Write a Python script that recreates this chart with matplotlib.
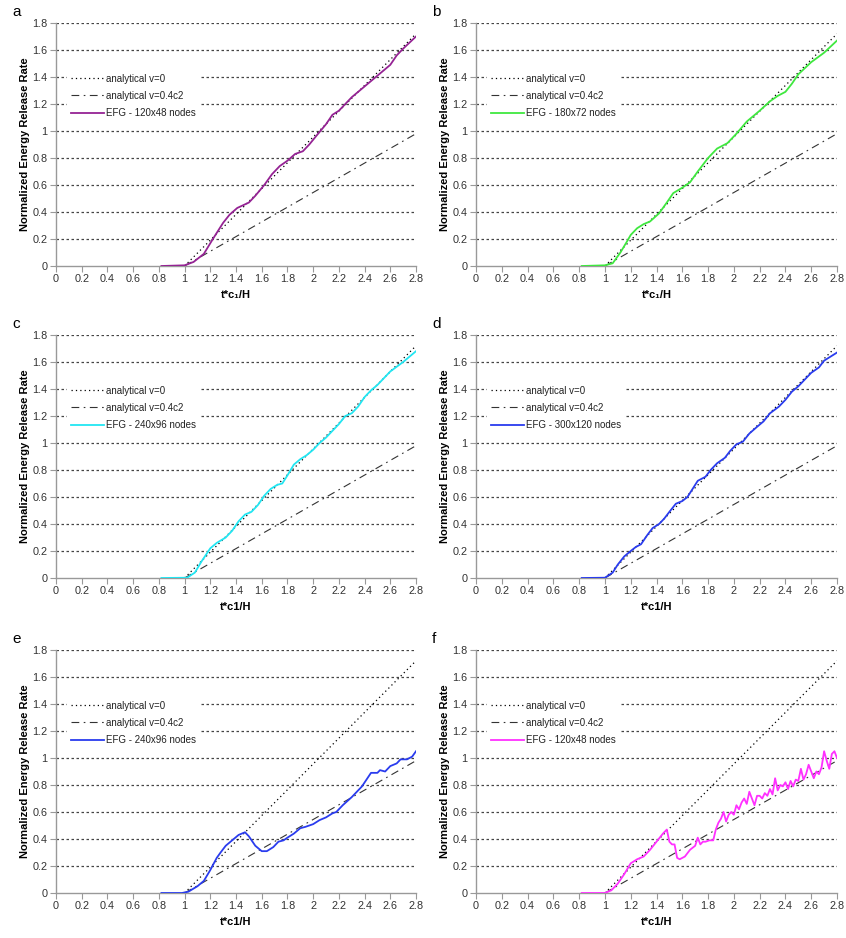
import matplotlib
matplotlib.use("Agg")
import matplotlib.pyplot as plt

plt.rcParams['font.family'] = ['Liberation Sans', 'DejaVu Sans']

# analytical lines
anal_x = [1.0, 2.8]
anal_v0 = [0.0, 1.72]
anal_v04 = [0.0, 0.98]

# panel data
a_x = [0.82, 1.0, 1.07, 1.15, 1.22, 1.3, 1.35, 1.41, 1.5, 1.55, 1.62, 1.68, 1.74, 1.8, 1.86, 1.92, 1.97, 2.03, 2.1, 2.15, 2.2, 2.25, 2.3, 2.4, 2.5, 2.6, 2.65, 2.7, 2.8]
a_y = [0.0, 0.005, 0.03, 0.09, 0.2, 0.32, 0.38, 0.43, 0.47, 0.52, 0.6, 0.68, 0.74, 0.78, 0.83, 0.85, 0.9, 0.97, 1.05, 1.12, 1.15, 1.2, 1.25, 1.33, 1.41, 1.49, 1.56, 1.61, 1.7]

b_x = [0.82, 1.0, 1.06, 1.12, 1.17, 1.2, 1.25, 1.3, 1.35, 1.42, 1.48, 1.53, 1.6, 1.66, 1.72, 1.8, 1.87, 1.95, 2.02, 2.1, 2.2, 2.28, 2.34, 2.4, 2.45, 2.5, 2.6, 2.7, 2.8]
b_y = [0.0, 0.005, 0.02, 0.1, 0.18, 0.23, 0.28, 0.31, 0.33, 0.39, 0.47, 0.54, 0.58, 0.62, 0.7, 0.8, 0.87, 0.91, 0.98, 1.07, 1.15, 1.22, 1.26, 1.29, 1.35, 1.42, 1.51, 1.58, 1.67]

c_x = [0.82, 1.02, 1.08, 1.13, 1.2, 1.25, 1.32, 1.37, 1.42, 1.47, 1.52, 1.57, 1.62, 1.67, 1.72, 1.76, 1.8, 1.85, 1.9, 1.95, 2.0, 2.05, 2.1, 2.15, 2.2, 2.25, 2.3, 2.35, 2.4, 2.45, 2.5, 2.55, 2.6, 2.7, 2.8]
c_y = [0.0, 0.002, 0.04, 0.12, 0.22, 0.26, 0.3, 0.35, 0.42, 0.47, 0.49, 0.54, 0.61, 0.66, 0.69, 0.7, 0.76, 0.84, 0.88, 0.91, 0.95, 1.0, 1.04, 1.09, 1.14, 1.2, 1.22, 1.27, 1.34, 1.39, 1.43, 1.48, 1.53, 1.6, 1.68]

d_x = [0.82, 1.0, 1.06, 1.1, 1.15, 1.2, 1.24, 1.28, 1.33, 1.37, 1.42, 1.46, 1.5, 1.55, 1.6, 1.64, 1.68, 1.72, 1.78, 1.82, 1.87, 1.93, 1.97, 2.02, 2.07, 2.12, 2.18, 2.23, 2.28, 2.35, 2.4, 2.45, 2.5, 2.55, 2.6, 2.66, 2.7, 2.8]
d_y = [0.0, 0.002, 0.04, 0.1, 0.16, 0.2, 0.23, 0.25, 0.32, 0.37, 0.4, 0.44, 0.49, 0.55, 0.57, 0.6, 0.66, 0.72, 0.75, 0.8, 0.85, 0.89, 0.94, 0.99, 1.01, 1.07, 1.12, 1.16, 1.22, 1.27, 1.32, 1.38, 1.42, 1.47, 1.52, 1.56, 1.61, 1.67]

e_x = [0.82, 0.98, 1.03, 1.1, 1.15, 1.2, 1.25, 1.28, 1.32, 1.37, 1.42, 1.47, 1.5, 1.55, 1.6, 1.64, 1.69, 1.73, 1.77, 1.8, 1.85, 1.9, 1.94, 2.0, 2.05, 2.1, 2.15, 2.18, 2.23, 2.3, 2.38, 2.45, 2.5, 2.52, 2.56, 2.6, 2.65, 2.68, 2.73, 2.77, 2.8]
e_y = [0.0, 0.0, 0.01, 0.05, 0.09, 0.17, 0.26, 0.3, 0.35, 0.39, 0.43, 0.45, 0.42, 0.35, 0.31, 0.31, 0.34, 0.38, 0.39, 0.41, 0.44, 0.48, 0.49, 0.51, 0.54, 0.56, 0.59, 0.6, 0.65, 0.71, 0.79, 0.89, 0.89, 0.91, 0.9, 0.94, 0.96, 0.99, 0.99, 1.01, 1.05]

f_x = [0.82, 1.0, 1.05, 1.1, 1.15, 1.2, 1.25, 1.3, 1.35, 1.4, 1.45, 1.48, 1.5, 1.52, 1.54, 1.56, 1.58, 1.62, 1.66, 1.7, 1.72, 1.74, 1.76, 1.78, 1.81, 1.84, 1.86, 1.88, 1.9, 1.92, 1.94, 1.96, 1.98, 2.0, 2.02, 2.04, 2.06, 2.08, 2.1, 2.12, 2.14, 2.16, 2.18, 2.2, 2.22, 2.24, 2.26, 2.28, 2.3, 2.32, 2.34, 2.36, 2.38, 2.4, 2.42, 2.44, 2.46, 2.48, 2.5, 2.52, 2.54, 2.56, 2.58, 2.6, 2.62, 2.64, 2.66, 2.68, 2.7, 2.72, 2.74, 2.76, 2.78, 2.8]
f_y = [0.0, 0.0, 0.02, 0.07, 0.14, 0.22, 0.25, 0.27, 0.32, 0.38, 0.44, 0.47, 0.38, 0.36, 0.36, 0.26, 0.25, 0.27, 0.32, 0.35, 0.41, 0.36, 0.38, 0.38, 0.39, 0.39, 0.47, 0.52, 0.55, 0.6, 0.53, 0.58, 0.6, 0.58, 0.65, 0.62, 0.67, 0.7, 0.66, 0.75, 0.7, 0.65, 0.72, 0.72, 0.7, 0.74, 0.72, 0.77, 0.73, 0.85, 0.76, 0.8, 0.79, 0.82, 0.77, 0.83, 0.79, 0.84, 0.83, 0.92, 0.84, 0.88, 0.95, 0.9, 0.85, 0.9, 0.88, 0.93, 1.05, 0.98, 0.92, 1.03, 1.05, 1.0]

panels = [
    ('a', a_x, a_y, '#952394', 'EFG - 120x48 nodes', 't*c\u2081/H'),
    ('b', b_x, b_y, '#3fe83f', 'EFG - 180x72 nodes', 't*c\u2081/H'),
    ('c', c_x, c_y, '#22e6f2', 'EFG - 240x96 nodes', 't*c1/H'),
    ('d', d_x, d_y, '#2a3cee', 'EFG - 300x120 nodes', 't*c1/H'),
    ('e', e_x, e_y, '#2a3cee', 'EFG - 240x96 nodes', 't*c1/H'),
    ('f', f_x, f_y, '#ff30ff', 'EFG - 120x48 nodes', 't*c1/H'),
]

xticks = [0, 0.2, 0.4, 0.6, 0.8, 1, 1.2, 1.4, 1.6, 1.8, 2, 2.2, 2.4, 2.6, 2.8]
yticks = [0, 0.2, 0.4, 0.6, 0.8, 1, 1.2, 1.4, 1.6, 1.8]

W, H = 846, 938
fig = plt.figure(figsize=(W / 100, H / 100), dpi=100)

cols = [(56, 416), (476, 837)]
rows = [(23, 266), (335, 578), (650, 893)]

for i, (lab, x, y, col, name, xl) in enumerate(panels):
    c = cols[i % 2]
    r = rows[i // 2]
    ax = fig.add_axes([c[0] / W, 1 - r[1] / H, (c[1] - c[0]) / W, (r[1] - r[0]) / H])
    ax.set_xlim(0, 2.8)
    ax.set_ylim(0, 1.8)
    for g in yticks[1:]:
        ax.axhline(g, color='#444444', lw=0.9, ls=(0, (2, 2)), zorder=1)
    l1, = ax.plot(anal_x, anal_v0, color='black', lw=0.9, ls=(0, (1, 2.5)), zorder=2)
    l2, = ax.plot(anal_x, anal_v04, color='#333333', lw=0.8, ls=(0, (7, 4, 1.5, 4)), zorder=2)
    l3, = ax.plot(x, y, color=col, lw=1.3, zorder=3)
    leg = ax.legend([l1, l2, l3], ['analytical v=0', 'analytical v=0.4c2', name],
                    loc='upper left', bbox_to_anchor=(0.03, 0.81), borderaxespad=0,
                    fontsize=7, frameon=True, fancybox=False, framealpha=1,
                    handlelength=3.4, handletextpad=0.15, labelspacing=0.75,
                    borderpad=0.45)
    leg.get_frame().set_edgecolor('none')
    leg.get_frame().set_facecolor('white')
    for t in leg.get_texts():
        t.set_color('#222222')
    ax.set_xticks(xticks)
    ax.set_xticklabels(['0', '0.2', '0.4', '0.6', '0.8', '1', '1.2', '1.4', '1.6', '1.8', '2', '2.2', '2.4', '2.6', '2.8'])
    ax.set_yticks(yticks)
    ax.set_yticklabels(['0', '0.2', '0.4', '0.6', '0.8', '1', '1.2', '1.4', '1.6', '1.8'])
    ax.tick_params(axis='both', labelsize=7.8, colors='#333333', length=4, width=0.8,
                   direction='out', pad=2)
    ax.tick_params(axis='both', color='#999999')
    for s in ['top', 'right']:
        ax.spines[s].set_visible(False)
    for s in ['left', 'bottom']:
        ax.spines[s].set_color('#999999')
        ax.spines[s].set_linewidth(1.0)
    ax.set_ylabel('Normalized Energy Release Rate', fontsize=8, fontweight='bold', labelpad=2)
    ax.set_xlabel(xl, fontsize=8, fontweight='bold', labelpad=4)
    ax.patch.set_alpha(0)
    fig.text((c[0] - 44) / W, 1 - (r[0] - 11) / H, lab, fontsize=11, va='center', ha='left')

fig.savefig('out.png', dpi=100)
